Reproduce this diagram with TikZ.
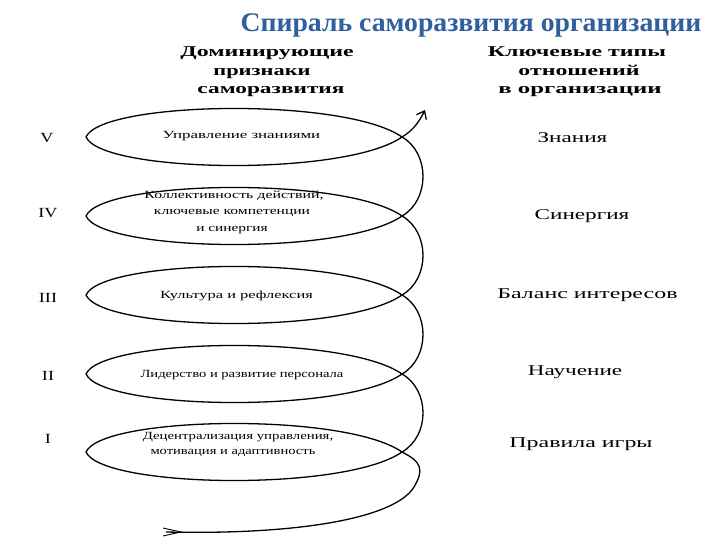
\documentclass[tikz,border=0pt]{standalone}
\usepackage{fontspec}
\setmainfont{Liberation Serif}
\usetikzlibrary{arrows.meta}
\definecolor{titleblue}{HTML}{2F5F9E}
\newcommand{\hsx}[2]{\scalebox{#1}[1]{#2}}
\begin{document}
\begin{tikzpicture}[x=1bp,y=-1bp,
  titletxt/.style={font=\fontsize{27}{30}\selectfont\bfseries, text=titleblue, inner sep=0pt, anchor=base},
  headtxt/.style={font=\fontsize{15}{18}\selectfont\bfseries, inner sep=0pt, anchor=base},
  reltxt/.style={font=\fontsize{15}{18}\selectfont, inner sep=0pt, anchor=base},
  elltxt/.style={font=\fontsize{11}{13}\selectfont, inner sep=0pt, anchor=base},
  romtxt/.style={font=\fontsize{14}{16}\selectfont, inner sep=0pt, anchor=base},
  spiral/.style={draw=black, line width=1.3bp, line join=round}
]
\useasboundingbox[fill=white] (0,0) rectangle (720,540);

% title
\node[titletxt] (title) at (471,32) {\hsx{1.03}{Спираль саморазвития организации}};

% headers
\node[headtxt] (lh1) at (267,57) {\hsx{1.6}{Доминирующие}};
\node[headtxt] (lh2) at (262,75.5) {\hsx{1.5}{признаки}};
\node[headtxt] (lh3) at (271,94) {\hsx{1.56}{саморазвития}};
\node[headtxt] (rh1) at (577,57) {\hsx{1.6}{Ключевые типы}};
\node[headtxt] (rh2) at (579,75.5) {\hsx{1.6}{отношений}};
\node[headtxt] (rh3) at (580,94) {\hsx{1.66}{в организации}};

% spiral
\draw[spiral, -{Straight Barb[length=7bp,width=11bp]}]
  (166,532) .. controls (300,535) and (395,518) .. (414,487)
  .. controls (424,470) and (422,462) .. (402,452)
  % loop I
  .. controls (345,412) and (102,416) .. (86,452)
  .. controls (102,488) and (345,492) .. (402,452)
  .. controls (430,436) and (430,390) .. (402,374)
  % loop II
  .. controls (345,334) and (102,338) .. (86,374)
  .. controls (102,410) and (345,414) .. (402,374)
  .. controls (430,358) and (430,311) .. (402,295)
  % loop III
  .. controls (345,255) and (102,259) .. (86,295)
  .. controls (102,331) and (345,335) .. (402,295)
  .. controls (430,279) and (430,232) .. (402,216)
  % loop IV
  .. controls (345,176) and (102,180) .. (86,216)
  .. controls (102,252) and (345,256) .. (402,216)
  .. controls (430,200) and (430,153) .. (402,137)
  % loop V
  .. controls (345,97) and (102,101) .. (86,137)
  .. controls (102,173) and (345,177) .. (402,137)
  .. controls (414,130) and (420,120) .. (425,110);
% tail mark
\draw[line width=0.9bp] (163,528) -- (181,532) -- (163,536);

% ellipse texts
\node[elltxt] (e5) at (241.5,139) {\hsx{1.54}{Управление знаниями}};
\node[elltxt] (e4a) at (234,199) {\hsx{1.45}{Коллективность действий,}};
\node[elltxt] (e4b) at (232,215) {\hsx{1.42}{ключевые компетенции}};
\node[elltxt] (e4c) at (232,232) {\hsx{1.4}{и синергия}};
\node[elltxt] (e3) at (236.5,298) {\hsx{1.5}{Культура и рефлексия}};
\node[elltxt] (e2) at (242,377) {\hsx{1.33}{Лидерство и развитие персонала}};
\node[elltxt] (e1a) at (238,439) {\hsx{1.35}{Децентрализация управления,}};
\node[elltxt] (e1b) at (233,454) {\hsx{1.33}{мотивация и адаптивность}};

% roman numerals
\node[romtxt] (r5) at (47,143) {\hsx{1.3}{V}};
\node[romtxt] (r4) at (48,218) {\hsx{1.3}{IV}};
\node[romtxt] (r3) at (48,302) {\hsx{1.3}{III}};
\node[romtxt] (r2) at (48,380) {\hsx{1.3}{II}};
\node[romtxt] (r1) at (48,443) {\hsx{1.3}{I}};

% relation types
\node[reltxt] (k5) at (572.5,143) {\hsx{1.55}{Знания}};
\node[reltxt] (k4) at (582,220) {\hsx{1.55}{Синергия}};
\node[reltxt] (k3) at (587.5,298) {\hsx{1.6}{Баланс интересов}};
\node[reltxt] (k2) at (575,375) {\hsx{1.55}{Научение}};
\node[reltxt] (k1) at (581,447) {\hsx{1.6}{Правила игры}};
\end{tikzpicture}
\end{document}
